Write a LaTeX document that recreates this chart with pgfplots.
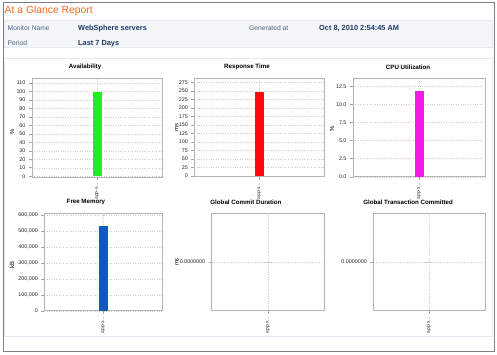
\documentclass[border=0pt]{standalone}
\usepackage{pgfplots}
\pgfplotsset{compat=1.18}
\usepackage{fontspec}
\setmainfont{Liberation Sans}
\definecolor{frameg}{HTML}{B4B4B4}
\definecolor{outerg}{HTML}{808080}
\definecolor{hdrfill}{HTML}{F4F6F8}
\definecolor{hdrline}{HTML}{E3EAF1}
\definecolor{orangeT}{HTML}{F5661E}
\definecolor{lblcol}{HTML}{4A6286}
\definecolor{valcol}{HTML}{1C3A6B}
\definecolor{barG}{HTML}{1EF01E}
\definecolor{barR}{HTML}{FF0A0A}
\definecolor{barM}{HTML}{F21AE6}
\definecolor{barB}{HTML}{1157C6}
\pgfplotsset{
  glance/.style={
    scale only axis, anchor=south west,
    xmin=-1, xmax=1, xtick={0}, xticklabels={app-x{.}{.}{.}},
    ymajorgrids, xmajorgrids,
    grid style={gray!40, dotted, line width=0.35pt},
    axis line style={draw=frameg, line width=0.7pt},
    tick pos=left, tick align=outside,
    major tick length=3bp,
    tick style={gray!70, line width=0.4pt},
    tick label style={font=\fontsize{5.4}{6}\selectfont, text=black!85},
    xticklabel style={rotate=90, anchor=east, font=\fontsize{4.8}{5}\selectfont},
    ylabel style={font=\fontsize{6}{7}\selectfont, anchor=center},
    title style={font=\bfseries\fontsize{6.2}{7}\selectfont, anchor=center},
    /pgf/number format/assume math mode=true,
    /pgf/number format/1000 sep={,},
    scaled y ticks=false,
    ybar, bar width=9bp,
  }
}
\begin{document}
\begin{tikzpicture}[x=1bp,y=1bp]
\path[use as bounding box] (0,0) rectangle (497,354);
% frames
\draw[outerg, line width=0.9pt] (3,351.5) rectangle (494,3);
\draw[hdrline, fill=hdrfill, line width=0.6pt] (4.5,334) rectangle (492,306.5);
\draw[hdrline, line width=0.6pt] (4.5,296) rectangle (492,18);
% header text
\node[anchor=base west, inner sep=0, text=orangeT, font=\fontsize{10.4}{12}\selectfont] at (4.5,340.5) {At a Glance Report};
\node[anchor=base west, inner sep=0, text=lblcol, font=\fontsize{6.7}{8}\selectfont] at (7.5,324) {Monitor Name};
\node[anchor=base west, inner sep=0, text=valcol, font=\bfseries\fontsize{7.4}{8}\selectfont] at (78,324) {WebSphere servers};
\node[anchor=base west, inner sep=0, text=lblcol, font=\fontsize{6.7}{8}\selectfont] at (249,324) {Generated at};
\node[anchor=base west, inner sep=0, text=valcol, font=\bfseries\fontsize{7.4}{8}\selectfont] at (319,324) {Oct 8, 2010 2:54:45 AM};
\node[anchor=base west, inner sep=0, text=lblcol, font=\fontsize{6.7}{8}\selectfont] at (7.5,309) {Period};
\node[anchor=base west, inner sep=0, text=valcol, font=\bfseries\fontsize{7.4}{8}\selectfont] at (78,309) {Last 7 Days};

% Availability
\begin{axis}[glance, at={(32bp,177bp)}, width=130bp, height=99bp,
  ymin=-1, ymax=116, ytick={0,10,20,30,40,50,60,70,80,90,100,110},
  title={Availability}, title style={at={(axis description cs:0.408,1.051)}},
  ylabel={\%}, ylabel style={at={(axis description cs:-0.154,0.46)}}]
\addplot[fill=barG, draw=none] coordinates {(0,100)};
\end{axis}
% Response Time
\begin{axis}[glance, at={(194.3bp,177.3bp)}, width=130bp, height=98.4bp,
  ymin=-2, ymax=287, ytick={0,25,50,75,100,125,150,175,200,225,250,275},
  title={Response Time}, title style={at={(axis description cs:0.405,1.054)}},
  ylabel={ms}, ylabel style={at={(axis description cs:-0.135,0.495)}}]
\addplot[fill=barR, draw=none] coordinates {(0,247)};
\end{axis}
% CPU Utilization
\begin{axis}[glance, at={(353bp,177.3bp)}, width=132bp, height=98.4bp,
  ymin=0, ymax=13.6, ytick={0,2.5,5,7.5,10,12.5},
  yticklabel style={/pgf/number format/.cd, fixed, fixed zerofill, precision=1},
  title={CPU Utilization}, title style={at={(axis description cs:0.417,1.054)}},
  ylabel={\%}, ylabel style={at={(axis description cs:-0.159,0.49)}}]
\addplot[fill=barM, draw=none] coordinates {(0,11.8)};
\end{axis}
% Free Memory
\begin{axis}[glance, at={(44.3bp,43.3bp)}, width=118bp, height=97.4bp,
  ymin=0, ymax=610000, ytick={0,100000,200000,300000,400000,500000,600000},
  yticklabel style={/pgf/number format/.cd, fixed, precision=0, 1000 sep={,}},
  title={Free Memory}, title style={at={(axis description cs:0.353,1.054)}},
  ylabel={kB}, ylabel style={at={(axis description cs:-0.274,0.47)}}]
\addplot[fill=barB, draw=none] coordinates {(0,531000)};
\end{axis}
% Global Commit Duration
\begin{axis}[glance, at={(211.7bp,43.3bp)}, width=112.3bp, height=97.4bp,
  ymin=-1, ymax=1, ytick={0}, yticklabels={0.0000000},
  title={Global Commit Duration}, title style={at={(axis description cs:0.305,1.054)}},
  ylabel={ms}, ylabel style={at={(axis description cs:-0.309,0.5)}}]
\addplot[fill=barB, draw=none] coordinates {(0,0)};
\end{axis}
% Global Transaction Committed
\begin{axis}[glance, at={(373.3bp,43.3bp)}, width=111.7bp, height=97.4bp,
  ymin=-1, ymax=1, ytick={0}, yticklabels={0.0000000},
  title={Global Transaction Committed}, title style={at={(axis description cs:0.311,1.054)}}]
\addplot[fill=barB, draw=none] coordinates {(0,0)};
\end{axis}
\end{tikzpicture}
\end{document}
